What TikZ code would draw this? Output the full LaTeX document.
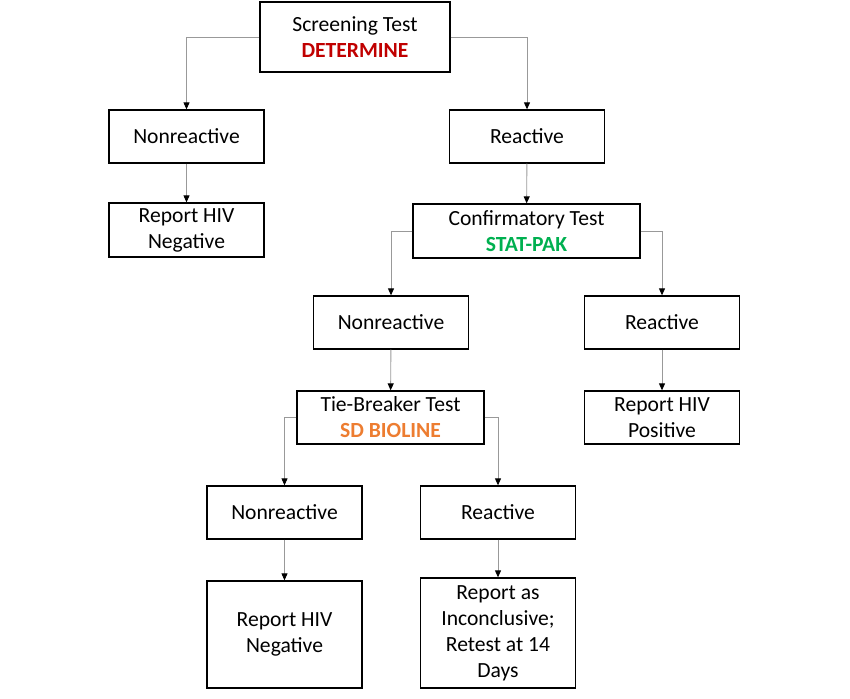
\documentclass[tikz,border=0pt]{standalone}
\usepackage{fontspec}
\setmainfont{Carlito}
\usepackage{tikz}
\usetikzlibrary{positioning, arrows.meta}
\definecolor{detred}{HTML}{C00000}
\definecolor{statgreen}{HTML}{00B050}
\definecolor{sdorange}{HTML}{ED7D31}

\begin{document}
\begin{tikzpicture}[x=1pt, y=-1pt,
        every node/.style={font=\fontsize{21.6}{26}\selectfont},
        box/.style={draw, rectangle, line width=1.3pt, align=center, inner sep=0pt, minimum width=155pt, minimum height=53pt},
        link/.style={draw=gray!80, line width=0.9pt, -{Triangle[length=7pt, width=6pt, color=black, fill=black]}}]
        \useasboundingbox (0,0) rectangle (850,698);

        \node[box, minimum width=190pt, minimum height=70pt] (screen) at (355,37) {Screening Test\\\textcolor{detred}{\textbf{DETERMINE}}};
        \node[box] (nonr1) at (186.5,136.5) {Nonreactive};
        \node[box] (reac1) at (527,136.5) {Reactive};
        \node[box, minimum height=54pt] (neg1) at (186.5,230) {Report HIV\\Negative};
        \node[box, minimum width=227pt, minimum height=54pt] (confirm) at (526.5,231) {Confirmatory Test\\\textcolor{statgreen}{\textbf{STAT-PAK}}};

        \node[box] (nonr2) at (391,322.5) {Nonreactive};
        \node[box] (reac2) at (662,322.5) {Reactive};
        \node[box, minimum width=187pt] (tie) at (390.5,417.5) {Tie-Breaker Test\\\textcolor{sdorange}{\textbf{SD BIOLINE}}};
        \node[box] (pos) at (662,417.5) {Report HIV\\Positive};

        \node[box] (nonr3) at (284.5,512.5) {Nonreactive};
        \node[box] (reac3) at (498,512.5) {Reactive};
        \node[box, minimum height=107pt] (neg2) at (284.5,634.5) {Report HIV\\Negative};
        \node[box, minimum height=110pt] (inconc) at (498,633) {Report as\\Inconclusive;\\Retest at 14\\Days};

        \draw[link] (screen.west) -| (nonr1.north);
        \draw[link] (screen.east) -| (reac1.north);
        \draw[link] (nonr1) -- (neg1);
        \draw[link] (reac1) -- (confirm);
        \draw[link] (confirm.west) -| (nonr2.north);
        \draw[link] (confirm.east) -| (reac2.north);
        \draw[link] (nonr2) -- (tie);
        \draw[link] (reac2) -- (pos);
        \draw[link] (tie.west) -| (nonr3.north);
        \draw[link] (tie.east) -| (reac3.north);
        \draw[link] (nonr3) -- (neg2);
        \draw[link] (reac3) -- (inconc);
    \end{tikzpicture}
\end{document}
